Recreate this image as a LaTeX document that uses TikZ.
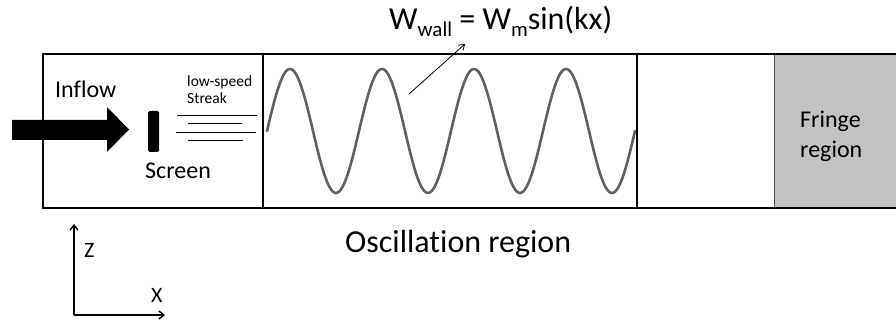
\documentclass[tikz,border=0pt]{standalone}
\usepackage{fontspec}
\setmainfont[Ligatures=NoCommon]{Carlito}
\usetikzlibrary{arrows.meta}
\begin{document}
\begin{tikzpicture}[x=1pt,y=-1pt,
  txt/.style={inner sep=0pt,anchor=base west,text=black},
  wall/.style={line width=2.4pt,black},
  divider/.style={line width=1.4pt,black},
  streak/.style={line width=0.9pt,black},
  thinarrow/.style={line width=0.8pt,-{Straight Barb[length=5pt,width=7pt]}},
  axisarrow/.style={line width=1.4pt,-{Straight Barb[length=5pt,width=8pt]}}]
\useasboundingbox (0,0) rectangle (896,320);
% fringe region
\fill[gray!48] (774,54) rectangle (896,208);
\draw[line width=0.8pt,gray!60!black] (774,54) -- (774,208);
% outer walls
\draw[wall] (896,54) -- (43,54) -- (43,208) -- (896,208);
\draw[divider] (263,54) -- (263,208);
\draw[divider] (637,54) -- (637,208);
% sine wave
\draw[line width=2.6pt,gray!75!black,line cap=round]
  plot[domain=267:635,samples=240,smooth] (\x,{131-62*sin((\x-267)/92*360)});
% inflow arrow
\fill[black] (12,120) -- (107,120) -- (107,107) -- (129,129.5) -- (107,152) -- (107,140) -- (12,140) -- cycle;
% screen
\fill[black,rounded corners=1.5pt] (148,111) rectangle (159,152);
% streak lines
\coordinate (s1a) at (177,115); \coordinate (s1b) at (257,115);
\coordinate (s2a) at (188,123); \coordinate (s2b) at (242,123);
\coordinate (s3a) at (176,132); \coordinate (s3b) at (256,132);
\coordinate (s4a) at (188,140); \coordinate (s4b) at (243,140);
\draw[streak] (s1a) -- (s1b);
\draw[streak] (s2a) -- (s2b);
\draw[streak] (s3a) -- (s3b);
\draw[streak] (s4a) -- (s4b);
% texts
\node[txt,font=\fontsize{24}{24}\selectfont] (inflow) at (55,98) {Inflow};
\node[txt,font=\fontsize{24}{24}\selectfont] (screen) at (145,179) {Screen};
\node[txt,font=\fontsize{15.5}{15.5}\selectfont] (low) at (187,87) {low-speed};
\node[txt,font=\fontsize{15.5}{15.5}\selectfont] (streak) at (187,104) {Streak};
\node[txt,font=\fontsize{24}{24}\selectfont] (fringe) at (800,128) {Fringe};
\node[txt,font=\fontsize{24}{24}\selectfont] (region) at (800,158) {region};
\node[txt,font=\fontsize{32}{32}\selectfont] (osc) at (345,252) {Oscillation region};
\node[txt,font=\fontsize{32}{32}\selectfont] (formula) at (389,30)
  {W\raisebox{-7pt}{\fontsize{21}{21}\selectfont wall} = W\raisebox{-7pt}{\fontsize{21}{21}\selectfont m}sin(kx)};
\node[txt,font=\fontsize{22}{22}\selectfont] (zlab) at (84,258) {Z};
\node[txt,font=\fontsize{22}{22}\selectfont] (xlab) at (151,302) {X};
% formula arrow
\coordinate (fa) at (409,94);
\coordinate (fb) at (465,44);
\draw[thinarrow] (fa) -- (fb);
% axes
\coordinate (origin) at (74,315);
\coordinate (zend) at (74,224);
\coordinate (xend) at (165,315);
\draw[axisarrow] (origin) -- (zend);
\draw[axisarrow] (origin) -- (xend);
\end{tikzpicture}
\end{document}
